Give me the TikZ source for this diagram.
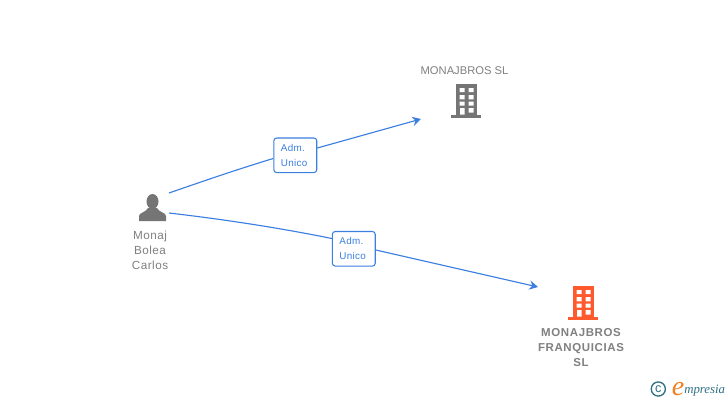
\documentclass[tikz,border=0pt]{standalone}
\usepackage{fontspec}
\setmainfont{Liberation Sans}
\newfontfamily\logofont{Liberation Serif}
\usetikzlibrary{arrows.meta}
\definecolor{linkblue}{HTML}{3B7FE0}
\definecolor{labelgray}{HTML}{808080}
\definecolor{icongray}{HTML}{757575}
\definecolor{hotorange}{HTML}{FF5A2E}
\definecolor{logoteal}{HTML}{2F7186}
\definecolor{logoorange}{HTML}{F08020}
\tikzset{
  px/.style={x=0.75pt,y=-0.75pt},
  link/.style={draw=linkblue,line width=0.85pt},
  linkend/.style={link,-{Stealth[length=6.5pt,width=7pt,inset=2.2pt]}},
  rolebox/.style={draw=linkblue,fill=white,rounded corners=2.2pt,line width=0.8pt,minimum width=32.2pt,minimum height=26pt,inner xsep=0pt,inner ysep=0pt,text width=21.5pt,text=linkblue,font=\fontsize{7.4}{11.5}\selectfont\addfontfeature{LetterSpace=3},align=left},
  person text/.style={text=labelgray,font=\fontsize{8.8}{11.3}\selectfont\addfontfeature{LetterSpace=4},align=center,inner sep=0pt},
  firm text/.style={text=labelgray,font=\fontsize{8.4}{11.3}\selectfont,align=center,inner sep=0pt},
  hot text/.style={text=labelgray,font=\bfseries\fontsize{8.6}{11.3}\selectfont\addfontfeature{LetterSpace=5.5},align=center,inner sep=0pt},
}
\newcommand{\buildingicon}[3]{%
  \begin{scope}[shift={(#1,#2)}]
    \fill[#3] (0,0) rectangle (21,30.5);
    \fill[#3] (-4.5,30.5) rectangle (25.5,33.5);
    \fill[white] (4,4) rectangle (9,8) (13,4) rectangle (18,8)
      (4,11) rectangle (9,15.3) (13,11) rectangle (18,15.3)
      (4,17.7) rectangle (9,21.7) (13,17.7) rectangle (18,21.7)
      (4.5,24) rectangle (9,30.5) (13,24) rectangle (18,28.7);
  \end{scope}}
\begin{document}
\begin{tikzpicture}[px]
\useasboundingbox (0,0) rectangle (728,400);
\fill[white] (0,0) rectangle (728,400);

% person icon
\fill[icongray] (152.5,201.5) ellipse (6 and 7.5);
\fill[icongray] (139,221) -- (139,216) .. controls (139,212.5) and (146,212.5) .. (148,208)
  -- (157,208) .. controls (159,212.5) and (166,212.5) .. (166,216) -- (166,221) -- cycle;
\buildingicon{455.5}{84}{icongray}
\buildingicon{572.5}{286}{hotorange}

% labels
\node[person text] (person) at (150,250.3) {Monaj\\Bolea\\Carlos};
\node[firm text] (firma) at (464.5,70.5) {MONAJBROS SL};
\node[hot text] (firmb) at (581,347.3) {MONAJBROS\\FRANQUICIAS\\SL};

% connector ends
\coordinate (pa) at (169,193);
\coordinate (pb) at (169,213);
\coordinate (ea) at (421,119);
\coordinate (eb) at (538,287);

% role boxes
\node[rolebox] (roleA) at (295.3,155.3) {Adm.\\Unico};
\node[rolebox] (roleB) at (353.8,248.8) {Adm.\\Unico};

% connectors
\draw[link] (pa) .. controls (205,180.5) and (240,168.5) .. (roleA.west|-0,158.5);
\draw[linkend] (roleA.east|-0,148) -- (ea);
\draw[link] (pb) .. controls (225,219.5) and (280,228) .. (roleB.west|-0,238.5);
\draw[linkend] (roleB.east|-0,250) -- (eb);

% logo
\node[draw=logoteal,circle,line width=1pt,minimum size=10.6pt,inner sep=0pt,text=logoteal,font=\fontsize{9.5}{9.5}\selectfont] (copy) at (658.3,389) {c};
\node[text=logoorange,font=\logofont\itshape\fontsize{21}{21}\selectfont,inner sep=0pt,anchor=base] (loge) at (678,395.5) {e};
\node[text=logoteal,font=\logofont\itshape\fontsize{9.6}{10}\selectfont,inner sep=0pt,anchor=base west] (logt) at (684,393) {mpresia};
\end{tikzpicture}
\end{document}
